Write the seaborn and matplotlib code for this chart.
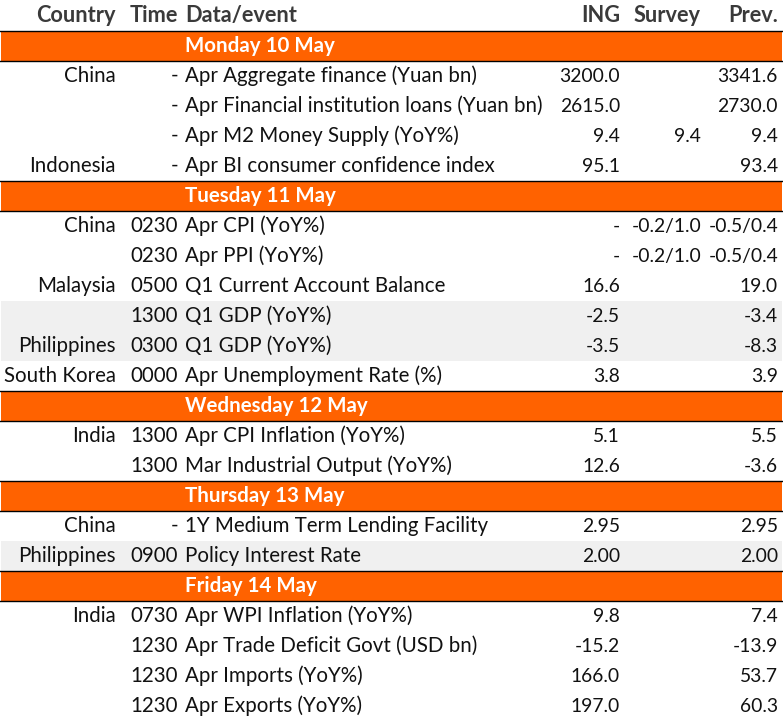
import matplotlib
matplotlib.use("Agg")
import matplotlib.pyplot as plt
from matplotlib.colors import ListedColormap
import numpy as np
import seaborn as sns

# ---------------- data ----------------
columns = ["Country", "Time", "Data/event", "ING", "Survey", "Prev."]
day_labels = ["Monday 10 May", "Tuesday 11 May", "Wednesday 12 May",
              "Thursday 13 May", "Friday 14 May"]
day_of_row = [0, 0, 0, 0, 1, 1, 1, 1, 1, 1, 2, 2, 3, 3, 4, 4, 4, 4]
countries = ["China", "", "", "Indonesia",
             "China", "", "Malaysia", "", "Philippines", "South Korea",
             "India", "",
             "China", "Philippines",
             "India", "", "", ""]
times = ["-", "-", "-", "-",
         "0230", "0230", "0500", "1300", "0300", "0000",
         "1300", "1300",
         "-", "0900",
         "0730", "1230", "1230", "1230"]
events = ["Apr Aggregate finance (Yuan bn)",
          "Apr Financial institution loans (Yuan bn)",
          "Apr M2 Money Supply (YoY%)",
          "Apr BI consumer confidence index",
          "Apr CPI (YoY%)",
          "Apr PPI (YoY%)",
          "Q1 Current Account Balance",
          "Q1 GDP (YoY%)",
          "Q1 GDP (YoY%)",
          "Apr Unemployment Rate (%)",
          "Apr CPI Inflation (YoY%)",
          "Mar Industrial Output (YoY%)",
          "1Y Medium Term Lending Facility",
          "Policy Interest Rate",
          "Apr WPI Inflation (YoY%)",
          "Apr Trade Deficit Govt (USD bn)",
          "Apr Imports (YoY%)",
          "Apr Exports (YoY%)"]
ing = ["3200.0", "2615.0", "9.4", "95.1",
       "-", "-", "16.6", "-2.5", "-3.5", "3.8",
       "5.1", "12.6",
       "2.95", "2.00",
       "9.8", "-15.2", "166.0", "197.0"]
survey = ["", "", "9.4", "",
          "-0.2/1.0", "-0.2/1.0", "", "", "", "",
          "", "",
          "", "",
          "", "", "", ""]
prev = ["3341.6", "2730.0", "9.4", "93.4",
        "-0.5/0.4", "-0.5/0.4", "19.0", "-3.4", "-8.3", "3.9",
        "5.5", "-3.6",
        "2.95", "2.00",
        "7.4", "-13.9", "53.7", "60.3"]
shaded = [7, 8, 13]   # data rows drawn on a light grey background

# ---------------- style ----------------
W, H = 783, 721
ORANGE = "#FF6200"
GREY = "#F0F0F0"
BODY = "#111111"
HEAD = "#3a3a3a"

sns.set_theme(style="white")
plt.rcParams["font.family"] = ["Lato", "DejaVu Sans"]

# build table rows: (kind, payload)
rows = [("header", None)]
last_day = -1
for i, d in enumerate(day_of_row):
    if d != last_day:
        rows.append(("day", d))
        last_day = d
    rows.append(("data", i))
n = len(rows)

codes = np.array([[2 if k == "day" else (1 if (k == "data" and p in shaded) else 0)]
                  for k, p in rows])

fig = plt.figure(figsize=(W / 100, H / 100), dpi=100)
ax = fig.add_axes([0, 0, 1, 1])
sns.heatmap(codes, ax=ax, cmap=ListedColormap(["white", GREY, ORANGE]),
            vmin=-0.5, vmax=2.5, cbar=False, xticklabels=False,
            yticklabels=False, linewidths=0)
ax.set_xlim(-1 / 781, 782 / 781)
ax.set_ylim(n, -1 / 30)
ax.set_axis_off()

def px(x):
    return (x - 1) / 781

# fit font size to the reference width of the widest event text
probe = ax.text(0, 0, "Apr Financial institution loans (Yuan bn)", fontsize=10)
fig.canvas.draw()
wpx = probe.get_window_extent().width
probe.remove()
fs = 10 * 357 / wpx
fs_num = fs * 0.94
fs_head = fs * 1.06

col_x = {"country": px(116), "time": px(178), "event": px(185),
         "ing": px(620), "survey": px(701), "prev": px(778)}

def baseline(r):
    return r + 22 / 30 - 1 / 30

# header
hdr = [(columns[0], "country", "right"), (columns[1], "time", "right"),
       (columns[2], "event", "left"), (columns[3], "ing", "right"),
       (columns[4], "survey", "right"), (columns[5], "prev", "right")]
for txt, key, ha in hdr:
    ax.text(col_x[key], baseline(0), txt, ha=ha, va="baseline",
            fontsize=fs_head, fontweight="bold", color=HEAD)

for r, (kind, p) in enumerate(rows):
    if kind == "day":
        ax.text(col_x["event"], baseline(r), day_labels[p], ha="left",
                va="baseline", fontsize=fs, fontweight="bold", color="white")
        ax.hlines([r, r + 1], -1, 2, color="black", lw=1.0)
    elif kind == "data":
        vals = [(countries[p], "country", "right", fs),
                (times[p], "time", "right", fs),
                (events[p], "event", "left", fs),
                (ing[p], "ing", "right", fs_num),
                (survey[p], "survey", "right", fs_num),
                (prev[p], "prev", "right", fs_num)]
        for txt, key, ha, size in vals:
            if txt:
                ax.text(col_x[key], baseline(r), txt, ha=ha, va="baseline",
                        fontsize=size, color=BODY)

fig.savefig("out.png", dpi=100)
